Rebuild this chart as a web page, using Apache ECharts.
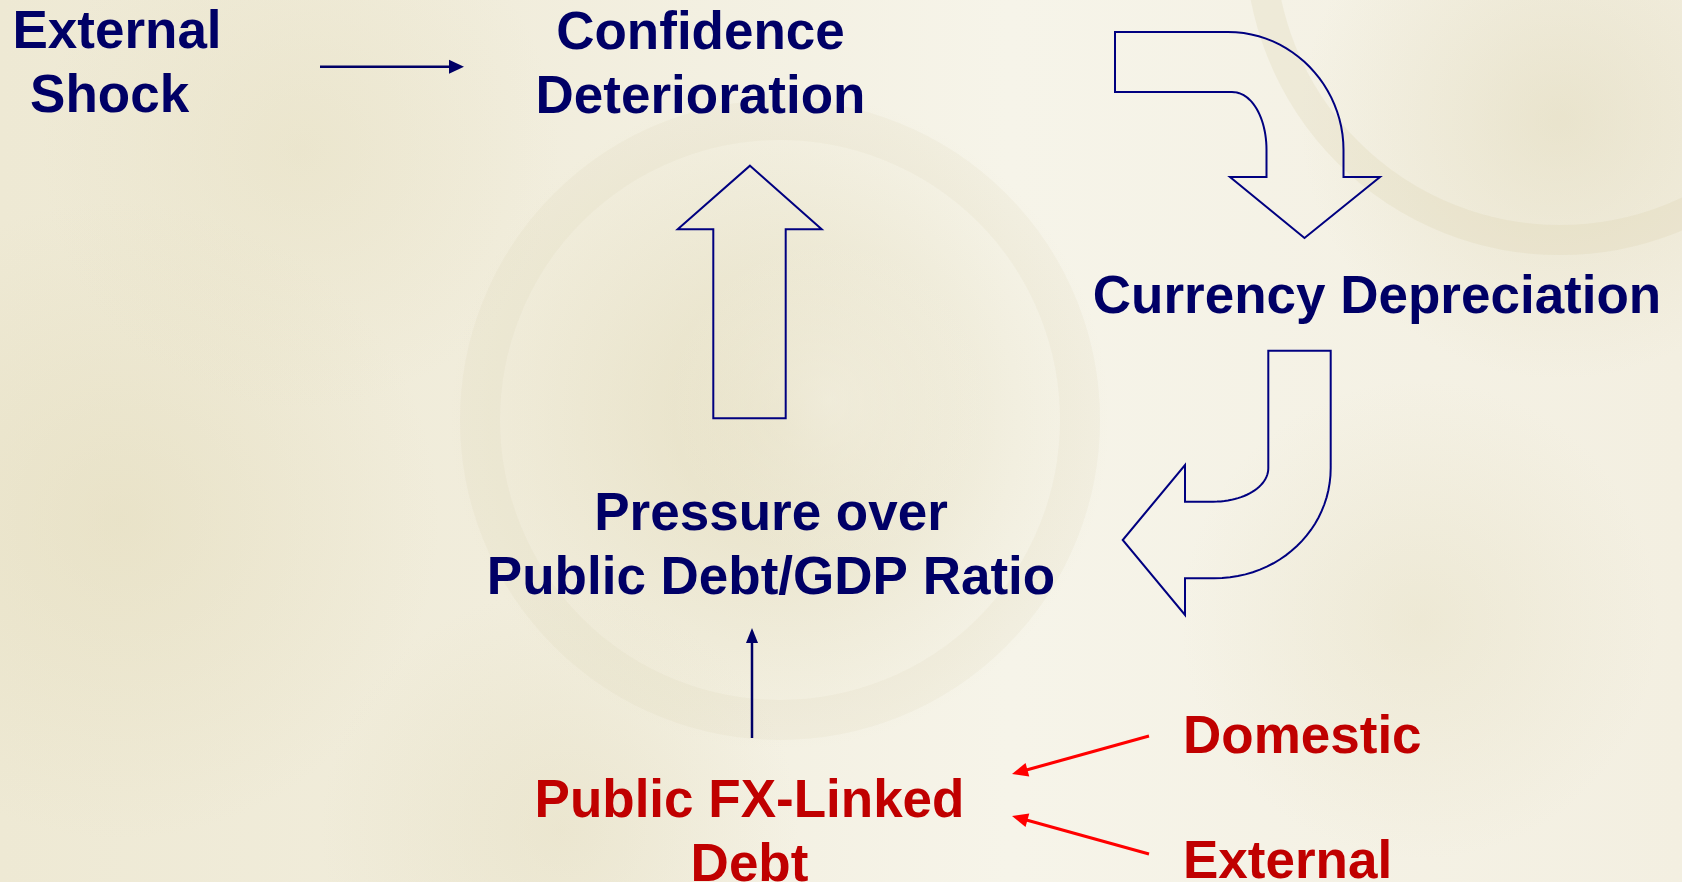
<!DOCTYPE html>
<html>
<head>
<meta charset="utf-8">
<script src="https://cdn.jsdelivr.net/npm/echarts@6/dist/echarts.min.js"></script>
<style>
html,body{margin:0;padding:0;background:#F4F1E3;}
#c{width:1682px;height:882px;}
</style>
</head>
<body>
<div id="c"></div>
<script>
// ---- text content ----
const shockLines = ['External', 'Shock '];
const confidenceLines = ['Confidence', 'Deterioration'];
const currencyLines = ['Currency Depreciation'];
const pressureLines = ['Pressure over', 'Public Debt/GDP Ratio'];
const debtLines = ['Public FX-Linked', 'Debt'];
const sourceLines = ['Domestic', 'External'];

// ---- layout (pixels) ----
const BLUE = '#000066', RED = '#C00000', ARROW_RED = '#FF0000', OUTLINE = '#000080';
const FONT = 'bold 53px "Liberation Sans", Arial, sans-serif';
const LINE_GAP = 64;

const chart = echarts.init(document.getElementById('c'), null, {renderer: 'canvas'});

function textBlock(lines, x, yFirst, color, align) {
  return lines.map((t, i) => ({
    type: 'text',
    x: x, y: yFirst + i * LINE_GAP,
    style: {text: t, font: FONT, fill: color, align: align || 'center', verticalAlign: 'middle'}
  }));
}

function lineArrow(x1, y1, x2, y2, color, width, len, half) {
  const dx = x2 - x1, dy = y2 - y1, L = Math.hypot(dx, dy);
  const ux = dx / L, uy = dy / L, px = -uy, py = ux;
  const bx = x2 - ux * len, by = y2 - uy * len;
  return [
    {type: 'line', shape: {x1: x1, y1: y1, x2: bx + ux * 1, y2: by + uy * 1},
     style: {stroke: color, lineWidth: width}},
    {type: 'polygon', shape: {points: [[x2, y2], [bx + px * half, by + py * half], [bx - px * half, by - py * half]]},
     style: {fill: color}}
  ];
}

// path builder: segments are ['L',x,y] or ['C',c1x,c1y,c2x,c2y,x,y]
function buildPoints(start, segs) {
  const pts = [start.slice()];
  let cur = start.slice();
  segs.forEach(s => {
    if (s[0] === 'L') { cur = [s[1], s[2]]; pts.push(cur); }
    else {
      const [_, ax, ay, bx, by, ex, ey] = s;
      for (let i = 1; i <= 24; i++) {
        const t = i / 24, m = 1 - t;
        pts.push([
          m*m*m*cur[0] + 3*m*m*t*ax + 3*m*t*t*bx + t*t*t*ex,
          m*m*m*cur[1] + 3*m*m*t*ay + 3*m*t*t*by + t*t*t*ey
        ]);
      }
      cur = [ex, ey];
    }
  });
  return pts;
}

function blob(cx, cy, r, color, alpha) {
  return {type: 'circle', shape: {cx: cx, cy: cy, r: r}, silent: true,
    style: {fill: new echarts.graphic.RadialGradient(0.5, 0.5, 0.5, [
      {offset: 0, color: 'rgba(' + color + ',' + alpha + ')'},
      {offset: 1, color: 'rgba(' + color + ',0)'}])}};
}

// ---- faint banknote-like background ----
const bg = [
  {type: 'rect', shape: {x: 0, y: 0, width: 1682, height: 882},
   style: {fill: new echarts.graphic.LinearGradient(0, 0, 1, 0, [
     {offset: 0, color: '#EEE9D4'}, {offset: 0.3, color: '#F1EDDC'},
     {offset: 0.6, color: '#F6F4E9'}, {offset: 1, color: '#F3EFE1'}])}},
  blob(780, 420, 330, '214,204,160', 0.45),
  blob(830, 400, 160, '246,243,232', 0.5),
  blob(120, 520, 320, '222,213,175', 0.35),
  blob(300, 150, 260, '224,216,180', 0.3),
  blob(1560, 120, 260, '214,205,165', 0.35),
  blob(1420, 620, 240, '222,214,178', 0.3),
  blob(560, 830, 240, '220,212,176', 0.3),
  {type: 'arc', shape: {cx: 1560, cy: -60, r: 300, startAngle: 0, endAngle: Math.PI},
   style: {stroke: 'rgba(210,200,155,0.18)', lineWidth: 30, fill: null}},
  {type: 'arc', shape: {cx: 780, cy: 420, r: 300, startAngle: 0, endAngle: Math.PI * 2},
   style: {stroke: 'rgba(210,200,155,0.10)', lineWidth: 40, fill: null}}
];

// ---- block arrows ----
const curveDown = buildPoints([1115, 32], [
  ['L', 1228, 32], ['C', 1292, 32, 1343.5, 86, 1343.5, 150], ['L', 1343.5, 177], ['L', 1380, 177],
  ['L', 1304.5, 238], ['L', 1230, 177], ['L', 1266.5, 177], ['L', 1266.5, 150],
  ['C', 1266.5, 118, 1252, 92, 1232, 92], ['L', 1115, 92]
]);
const curveLeft = buildPoints([1268.3, 350.7], [
  ['L', 1330.7, 350.7], ['L', 1330.7, 468], ['C', 1330.7, 529, 1279.6, 578.3, 1214, 578.3],
  ['L', 1185, 578.3], ['L', 1185, 615], ['L', 1122.7, 540], ['L', 1185, 465], ['L', 1185, 501.7],
  ['L', 1213.3, 501.7], ['C', 1243.7, 501.7, 1268.3, 486.7, 1268.3, 468.3]
]);
const upArrow = [[750, 165.7], [821.7, 229.3], [785.7, 229.3], [785.7, 418.3], [713.3, 418.3], [713.3, 229.3], [677.7, 229.3]];

const blocks = [upArrow, curveDown, curveLeft].map(p => ({
  type: 'polygon', shape: {points: p}, style: {fill: null, stroke: OUTLINE, lineWidth: 2, lineJoin: 'miter'}
}));

const arrows = [].concat(
  lineArrow(320, 66.7, 464, 66.7, BLUE, 2.5, 15, 7),
  lineArrow(752, 738, 752, 628, BLUE, 2.5, 15, 6),
  lineArrow(1149, 736, 1012, 774, ARROW_RED, 3, 16, 7),
  lineArrow(1149, 854, 1012, 816, ARROW_RED, 3, 16, 7)
);

const texts = [].concat(
  textBlock(shockLines, 117, 33.5, BLUE),
  textBlock(confidenceLines, 700.5, 34, BLUE),
  textBlock(currencyLines, 1377, 298, BLUE),
  textBlock(pressureLines, 771, 515, BLUE),
  textBlock(debtLines, 749.5, 802, RED),
  [{type: 'text', x: 1183, y: 738.5, style: {text: sourceLines[0], font: FONT, fill: RED, align: 'left', verticalAlign: 'middle'}},
   {type: 'text', x: 1183, y: 863, style: {text: sourceLines[1], font: FONT, fill: RED, align: 'left', verticalAlign: 'middle'}}]
);

chart.setOption({
  animation: false,
  backgroundColor: '#F4F1E3',
  graphic: {elements: [].concat(bg, blocks, arrows, texts)}
});
</script>
</body>
</html>
